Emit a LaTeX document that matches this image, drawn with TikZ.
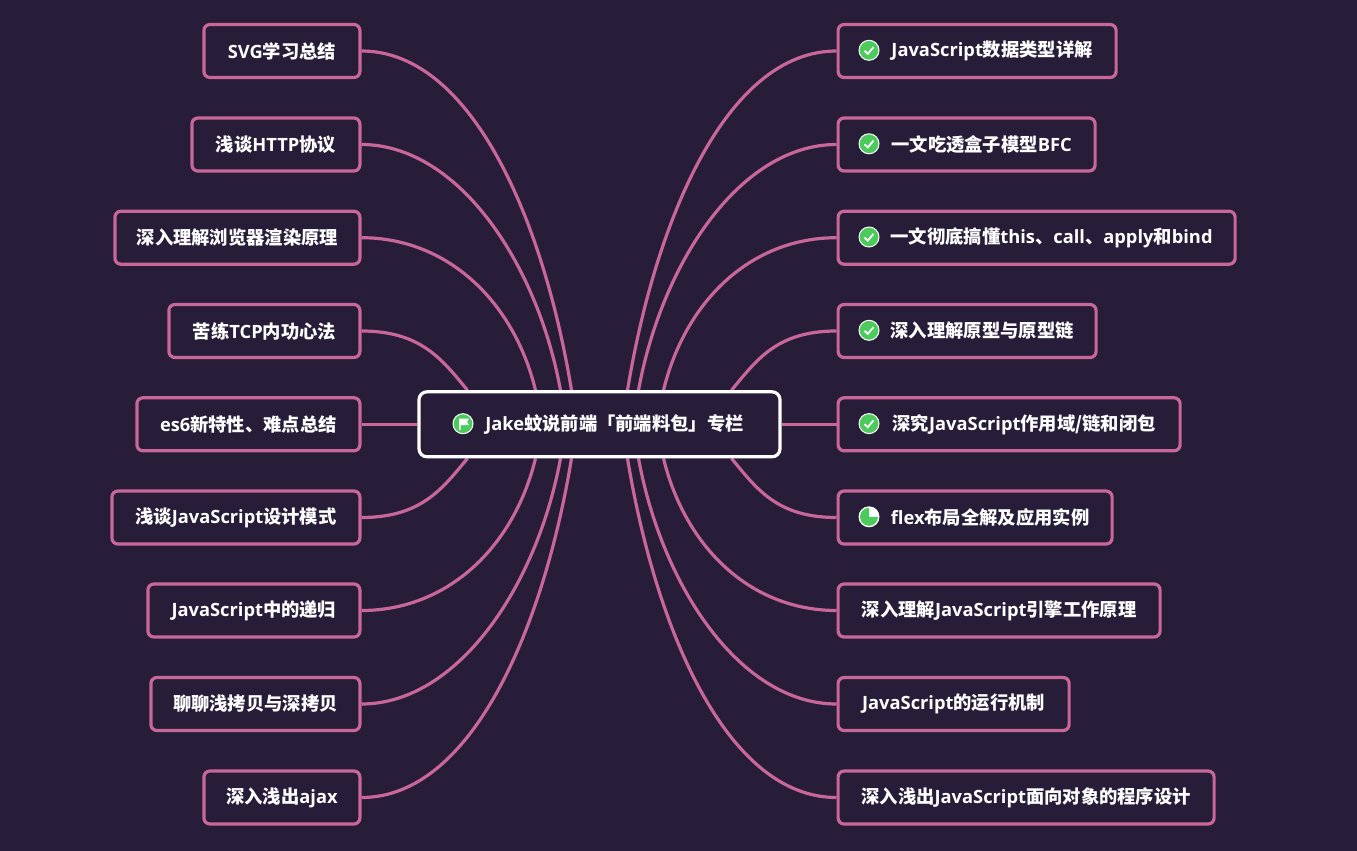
\documentclass[tikz,border=0pt]{standalone}
\usepackage{fontspec}
\usepackage{xcolor}
\usepackage{tikz}
\usetikzlibrary{backgrounds,calc}
\setmainfont{Noto Sans CJK SC}
\newfontfamily\latinfont{Open Sans}
\newcommand{\la}[1]{{\latinfont\bfseries #1}}
\definecolor{mapbg}{HTML}{271D39}
\definecolor{mappink}{HTML}{C9669A}
\definecolor{mapgreen}{HTML}{4CCB5C}
\tikzset{
    leafnode/.style={
        draw=mappink, fill=mapbg, text=white, rounded corners=6pt,
        line width=3.2pt, minimum height=53pt, inner xsep=0pt,
        font=\fontsize{18.3}{22}\selectfont\bfseries
    },
    rootnode/.style={
        leafnode, draw=white, rounded corners=8pt, minimum height=65pt
    },
    branch/.style={
        draw=mappink, line width=3.2pt
    },
    tickmark/.pic={
        \fill[mapgreen, draw=white, line width=1pt] (0,0) circle (10pt);
        \draw[white, line width=1.8pt] (-4.5,0.5) -- (-1.2,3.6) -- (4.5,-3.2);
    },
    flagmark/.pic={
        \fill[mapgreen, draw=white, line width=1pt] (0,0) circle (10pt);
        \fill[white] (-4,-5) -- (6,-5) -- (4,-2) -- (6,1.5) -- (-2.5,1.5) -- (-2.5,6.5) -- (-4,6.5) -- cycle;
    },
    piemark/.pic={
        \fill[white] (0,0) circle (10.5pt);
        \fill[mapgreen] (0,0) -- (9pt,0) arc (0:-270:9pt) -- cycle;
    }
}

\begin{document}
\begin{tikzpicture}[x=1pt, y=-1pt]
    \useasboundingbox (0,0) rectangle (1357,851);
    % Root
    \node[rootnode, minimum width=361pt] (root) at (599.5,424.3) {\hspace*{30pt}\la{Jake}蚊说前端「前端料包」专栏};
    \pic at (463,423.7) {flagmark};
    % Left leaves
    \node[leafnode, anchor=east, minimum width=156pt] (l1) at (361.5,51) {\la{SVG}学习总结};
    \node[leafnode, anchor=east, minimum width=168pt] (l2) at (361.5,144.5) {浅谈\la{HTTP}协议};
    \node[leafnode, anchor=east, minimum width=245pt] (l3) at (361.5,237.7) {深入理解浏览器渲染原理};
    \node[leafnode, anchor=east, minimum width=191pt] (l4) at (361.5,331) {苦练\la{TCP}内功心法};
    \node[leafnode, anchor=east, minimum width=223pt] (l5) at (361.5,424.3) {\la{es6}新特性、难点总结};
    \node[leafnode, anchor=east, minimum width=248pt] (l6) at (361.5,517.5) {浅谈\la{JavaScript}设计模式};
    \node[leafnode, anchor=east, minimum width=212pt] (l7) at (361.5,610.5) {\la{JavaScript}中的递归};
    \node[leafnode, anchor=east, minimum width=209pt] (l8) at (361.5,704) {聊聊浅拷贝与深拷贝};
    \node[leafnode, anchor=east, minimum width=156pt] (l9) at (361.5,797.5) {深入浅出\la{ajax}};
    % Right leaves
    \node[leafnode, anchor=west, minimum width=278pt] (r1) at (836.5,51) {\hspace*{30pt}\la{JavaScript}数据类型详解};
    \node[leafnode, anchor=west, minimum width=257pt] (r2) at (836.5,144.5) {\hspace*{30pt}一文吃透盒子模型\la{BFC}};
    \node[leafnode, anchor=west, minimum width=397pt] (r3) at (836.5,237.7) {\hspace*{30pt}一文彻底搞懂\la{this}、\la{call}、\la{apply}和\la{bind}};
    \node[leafnode, anchor=west, minimum width=258pt] (r4) at (836.5,331) {\hspace*{30pt}深入理解原型与原型链};
    \node[leafnode, anchor=west, minimum width=342pt] (r5) at (836.5,424.3) {\hspace*{30pt}深究\la{JavaScript}作用域/链和闭包};
    \node[leafnode, anchor=west, minimum width=274pt] (r6) at (836.5,517.5) {\hspace*{30pt}\la{flex}布局全解及应用实例};
    \node[leafnode, anchor=west, minimum width=322pt] (r7) at (836.5,610.5) {深入理解\la{JavaScript}引擎工作原理};
    \node[leafnode, anchor=west, minimum width=231pt] (r8) at (836.5,704) {\la{JavaScript}的运行机制};
    \node[leafnode, anchor=west, minimum width=376pt] (r9) at (836.5,797.5) {深入浅出\la{JavaScript}面向对象的程序设计};
    % Icons
    \foreach \i in {1,...,5} {
        \pic at ([xshift=32.5pt,yshift=0.7pt]r\i.west) {tickmark};
    }
    \pic at ([xshift=32.5pt,yshift=0.7pt]r6.west) {piemark};
    % Connectors
    \begin{scope}[on background layer]
        \fill[mapbg] (0,0) rectangle (1357,851);
        \foreach \n/\dx/\ca/\cx/\cy in {1/28/110/-28/-170, 2/39/95/-24/-130, 3/64/85/-22/-90, 4/132/60/-25/-30} {
            \coordinate (tl\n) at ([xshift=-\dx pt]root.north);
            \coordinate (bl\n) at ([xshift=-\dx pt]root.south);
            \coordinate (tr\n) at ([xshift=\dx pt]root.north);
            \coordinate (br\n) at ([xshift=\dx pt]root.south);
            \pgfmathtruncatemacro{\m}{10-\n}
            \draw[branch] (l\n.east) .. controls +(\ca,0) and ($(tl\n)+(\cx,\cy)$) .. (tl\n);
            \draw[branch] (r\n.west) .. controls +(-\ca,0) and ($(tr\n)+(-\cx,\cy)$) .. (tr\n);
            \draw[branch] (l\m.east) .. controls +(\ca,0) and ($(bl\n)+(\cx,-\cy)$) .. (bl\n);
            \draw[branch] (r\m.west) .. controls +(-\ca,0) and ($(br\n)+(-\cx,-\cy)$) .. (br\n);
        }
        \draw[branch] (l5) -- (root);
        \draw[branch] (r5) -- (root);
    \end{scope}
\end{tikzpicture}
\end{document}
